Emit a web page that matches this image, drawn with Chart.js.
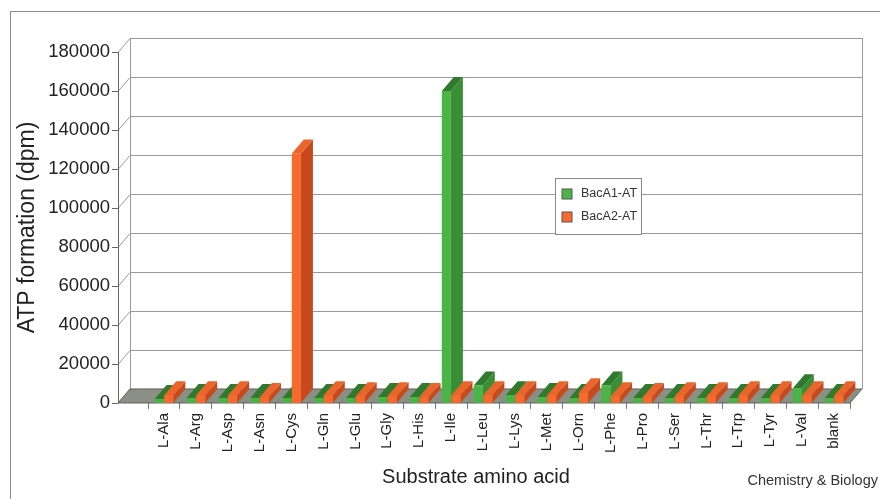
<!DOCTYPE html>
<html>
<head>
<meta charset="utf-8">
<script src="https://cdn.jsdelivr.net/npm/chart.js@4"></script>
<style>
  html, body { margin: 0; padding: 0; background: #fff; }
  #wrap { position: relative; width: 880px; height: 499px; font-family: "Liberation Sans", Arial, sans-serif; color: #222; }
  #frame { position: absolute; left: 10px; top: 11px; width: 880px; height: 499px;
           border-top: 1px solid #8c8c8c; border-left: 1px solid #8c8c8c; }
  #xtitle { position: absolute; left: 376px; width: 200px; text-align: center; top: 465px; font-size: 20px; }
  #credit { position: absolute; right: 2px; top: 472px; font-size: 14.5px; color: #333; }
</style>
</head>
<body>
<div id="wrap">
  <div id="frame"></div>
  <canvas id="chart" width="880" height="499"></canvas>
  <div id="xtitle">Substrate amino acid</div>
  <div id="credit">Chemistry &amp; Biology</div>
</div>
<script>
'use strict';

// Kategorien (Substrate)
const aminoAcids = ['L-Ala', 'L-Arg', 'L-Asp', 'L-Asn', 'L-Cys', 'L-Gln', 'L-Glu', 'L-Gly', 'L-His', 'L-Ile',
  'L-Leu', 'L-Lys', 'L-Met', 'L-Orn', 'L-Phe', 'L-Pro', 'L-Ser', 'L-Thr', 'L-Trp', 'L-Tyr', 'L-Val', 'blank'];

// Werte (dpm), aus dem Bild geschaetzt
const bacA1 = [2000, 2500, 2500, 2500, 2500, 2500, 2500, 3000, 3000, 160000,
  9000, 4000, 3000, 2500, 9000, 2500, 2500, 2500, 2500, 2500, 7500, 2500];
const bacA2 = [4000, 4000, 4000, 3000, 128000, 4000, 3500, 3500, 3000, 4000,
  4000, 4000, 4000, 5500, 3500, 3000, 3500, 3500, 4000, 4000, 4000, 4000];

const yTicks = [0, 20000, 40000, 60000, 80000, 100000, 120000, 140000, 160000, 180000];

const font = '"Liberation Sans", Arial, sans-serif';
const DX = 12;        // Tiefe nach rechts
const DY = 14;        // Tiefe nach oben
const GAP = 30;       // Abstand vordere y-Achse zur ersten Kategorie

const colors = {
  green: { front: '#4bb447', top: '#2f7a2c', side: '#3a8e36' },
  orange: { front: '#f66a2e', top: '#e9652a', side: '#c9491f' },
};

// Rueckwand, Boden, y-Achse und Balken im 3D-Stil
const walls3d = {
  id: 'walls3d',
  beforeDatasetsDraw(chart) {
    const { ctx, chartArea } = chart;
    const yScale = chart.scales.y;
    const y0 = yScale.getPixelForValue(0);
    const yTop = yScale.getPixelForValue(180000);
    const ax = chartArea.left - GAP;
    const right = chartArea.right + DX;
    ctx.save();
    ctx.lineWidth = 1;
    ctx.strokeStyle = '#9a9a9a';
    // Gitterlinien an der Rueckwand + Schraegen
    yTicks.forEach(v => {
      const y = Math.round(yScale.getPixelForValue(v)) + 0.5;
      ctx.beginPath();
      ctx.moveTo(ax, y);
      ctx.lineTo(ax + DX, y - DY);
      if (v > 0) ctx.lineTo(right, y - DY);
      ctx.stroke();
    });
    // Linke und rechte Wandkante
    ctx.beginPath();
    ctx.moveTo(ax + DX + 0.5, yTop - DY);
    ctx.lineTo(ax + DX + 0.5, y0 - DY);
    ctx.moveTo(right + 0.5, yTop - DY);
    ctx.lineTo(right + 0.5, y0 - DY);
    ctx.stroke();
    // Boden
    ctx.fillStyle = '#8b9087';
    ctx.strokeStyle = '#5d6159';
    ctx.beginPath();
    ctx.moveTo(ax, y0);
    ctx.lineTo(chartArea.right, y0);
    ctx.lineTo(right, y0 - DY);
    ctx.lineTo(ax + DX, y0 - DY);
    ctx.closePath();
    ctx.fill();
    ctx.stroke();
    // Vordere y-Achse mit Teilstrichen
    ctx.strokeStyle = '#666';
    ctx.beginPath();
    ctx.moveTo(ax + 0.5, yTop);
    ctx.lineTo(ax + 0.5, y0);
    yTicks.forEach(v => {
      const y = Math.round(yScale.getPixelForValue(v)) + 0.5;
      ctx.moveTo(ax - 6, y);
      ctx.lineTo(ax, y);
    });
    ctx.stroke();
    ctx.restore();
  },
  afterDatasetsDraw(chart) {
    const { ctx } = chart;
    const metas = [chart.getDatasetMeta(0), chart.getDatasetMeta(1)];
    const cols = [colors.green, colors.orange];
    ctx.save();
    for (let i = 0; i < aminoAcids.length; i++) {
      metas.forEach((meta, d) => {
        const el = meta.data[i];
        const c = cols[d];
        const l = el.x - el.width / 2;
        const r = el.x + el.width / 2;
        const t = el.y;
        const b = el.base;
        // Seite
        ctx.fillStyle = c.side;
        ctx.beginPath();
        ctx.moveTo(r, t);
        ctx.lineTo(r + DX, t - DY);
        ctx.lineTo(r + DX, b - DY);
        ctx.lineTo(r, b);
        ctx.closePath();
        ctx.fill();
        // Deckel
        ctx.fillStyle = c.top;
        ctx.beginPath();
        ctx.moveTo(l, t);
        ctx.lineTo(l + DX, t - DY);
        ctx.lineTo(r + DX, t - DY);
        ctx.lineTo(r, t);
        ctx.closePath();
        ctx.fill();
        // Front
        ctx.fillStyle = c.front;
        ctx.fillRect(l, t, r - l, b - t);
      });
    }
    ctx.restore();
  },
};

// Legende im Diagramm
const legendBox = {
  id: 'legendBox',
  afterDraw(chart) {
    const { ctx } = chart;
    const x = 555, y = 178, w = 86, h = 56;
    ctx.save();
    ctx.fillStyle = '#fff';
    ctx.fillRect(x, y, w, h);
    ctx.strokeStyle = '#888';
    ctx.lineWidth = 1;
    ctx.strokeRect(x + 0.5, y + 0.5, w, h);
    ctx.font = '12.5px ' + font;
    ctx.textBaseline = 'middle';
    chart.data.datasets.forEach((ds, i) => {
      const ty = y + 16 + i * 23;
      ctx.fillStyle = ds.legendColor;
      ctx.fillRect(x + 7, ty - 5, 10, 10);
      ctx.strokeStyle = '#555';
      ctx.strokeRect(x + 7, ty - 5, 10, 10);
      ctx.fillStyle = '#333';
      ctx.fillText(ds.label, x + 26, ty);
    });
    ctx.restore();
  },
};

new Chart(document.getElementById('chart').getContext('2d'), {
  type: 'bar',
  data: {
    labels: aminoAcids,
    datasets: [
      { label: 'BacA1-AT', data: bacA1, backgroundColor: 'rgba(0,0,0,0)', legendColor: colors.green.front },
      { label: 'BacA2-AT', data: bacA2, backgroundColor: 'rgba(0,0,0,0)', legendColor: colors.orange.front },
    ],
  },
  options: {
    responsive: false,
    animation: false,
    layout: { padding: { top: 52, right: 30, left: 0, bottom: 42 } },
    datasets: { bar: { categoryPercentage: 0.6, barPercentage: 0.95 } },
    plugins: {
      legend: { display: false },
      tooltip: { enabled: false },
    },
    scales: {
      x: {
        grid: { display: true, drawOnChartArea: false, offset: true, tickLength: 6, color: '#777' },
        border: { color: '#5d6159' },
        ticks: { color: '#222', font: { family: font, size: 15 }, minRotation: 90, maxRotation: 90, padding: 4 },
      },
      y: {
        min: 0,
        max: 180000,
        afterBuildTicks(axis) { axis.ticks = yTicks.map(v => ({ value: v })); },
        afterFit(axis) { axis.width = 148; },
        grid: { display: false },
        border: { display: false },
        ticks: { color: '#222', font: { family: font, size: 18.5 }, padding: 30, callback: v => String(v) },
        title: { display: true, text: 'ATP formation (dpm)', color: '#222', font: { family: font, size: 23 }, padding: { top: 14 } },
      },
    },
  },
  plugins: [walls3d, legendBox],
});
</script>
</body>
</html>
